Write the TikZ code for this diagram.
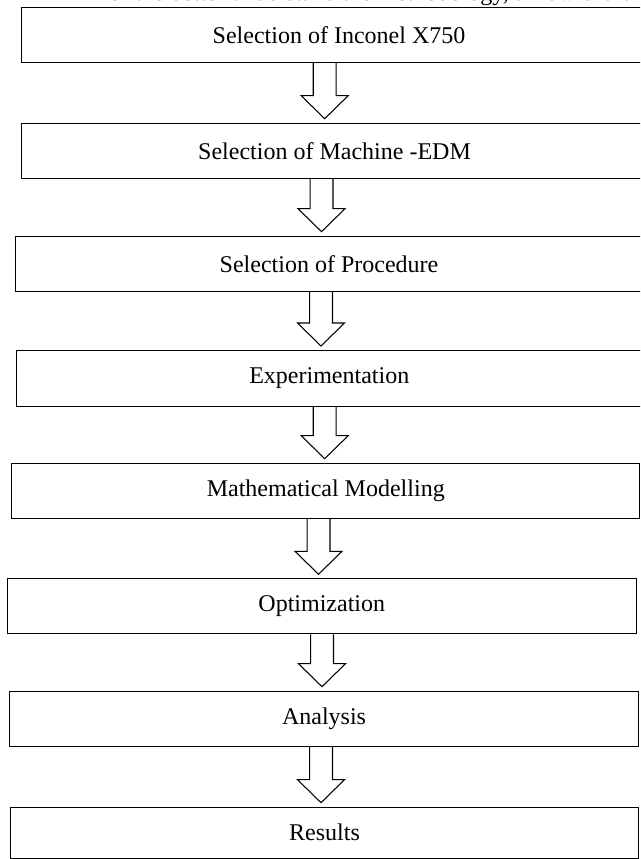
\documentclass[tikz,border=0pt]{standalone}
\usepackage{fontspec}
\setmainfont{Liberation Serif}
\usetikzlibrary{calc}

\newcommand{\flowarrow}[3]{%
  \draw[hollow] let \p1=(#1.south), \p2=(#2.north), \p3=(#3,0) in
    (\x3-8.6pt,\y1) -- (\x3-8.6pt,\y2+20.25pt) -- (\x3-17.6pt,\y2+20.25pt) -- (\x3,\y2+3pt)
    -- (\x3+17.6pt,\y2+20.25pt) -- (\x3+8.6pt,\y2+20.25pt) -- (\x3+8.6pt,\y1);}

\begin{document}
\begin{tikzpicture}[x=0.75pt, y=-0.75pt, every node/.style={font=\fontsize{18}{21.6}\selectfont}]
\tikzset{stage/.style={draw, line width=0.8pt, anchor=north west, minimum height=41.25pt, inner sep=0pt}}
\tikzset{hollow/.style={line width=0.8pt, line join=miter}}
\useasboundingbox (0,0) rectangle (640,859);
\clip (0,0) rectangle (640,859);
\node[anchor=base west] (lead) at (91,1) {For the better understand the methodology, a flow chart is};
\node[stage, minimum width=476.25pt] (inconel) at (21,7) {Selection of Inconel X750};
\node[stage, minimum width=469.5pt] (machine) at (21,122.7) {Selection of Machine -EDM};
\node[stage, minimum width=470.25pt] (procedure) at (15,235.7) {Selection of Procedure};
\node[stage, minimum width=469.9pt, minimum height=42pt] (experiment) at (15.5,350) {Experimentation};
\node[stage, minimum width=470.7pt] (modelling) at (11.4,462.7) {Mathematical Modelling};
\node[stage, minimum width=471.4pt] (optimization) at (7,578.3) {Optimization};
\node[stage, minimum width=471.75pt] (analysis) at (9,690.7) {Analysis};
\node[stage, minimum width=471pt, minimum height=38.25pt] (results) at (10,806.7) {Results};
\flowarrow{inconel}{machine}{324.7}
\flowarrow{machine}{procedure}{321.5}
\flowarrow{procedure}{experiment}{321}
\flowarrow{experiment}{modelling}{324.7}
\flowarrow{modelling}{optimization}{318.5}
\flowarrow{optimization}{analysis}{322}
\flowarrow{analysis}{results}{321}
\end{tikzpicture}
\end{document}
